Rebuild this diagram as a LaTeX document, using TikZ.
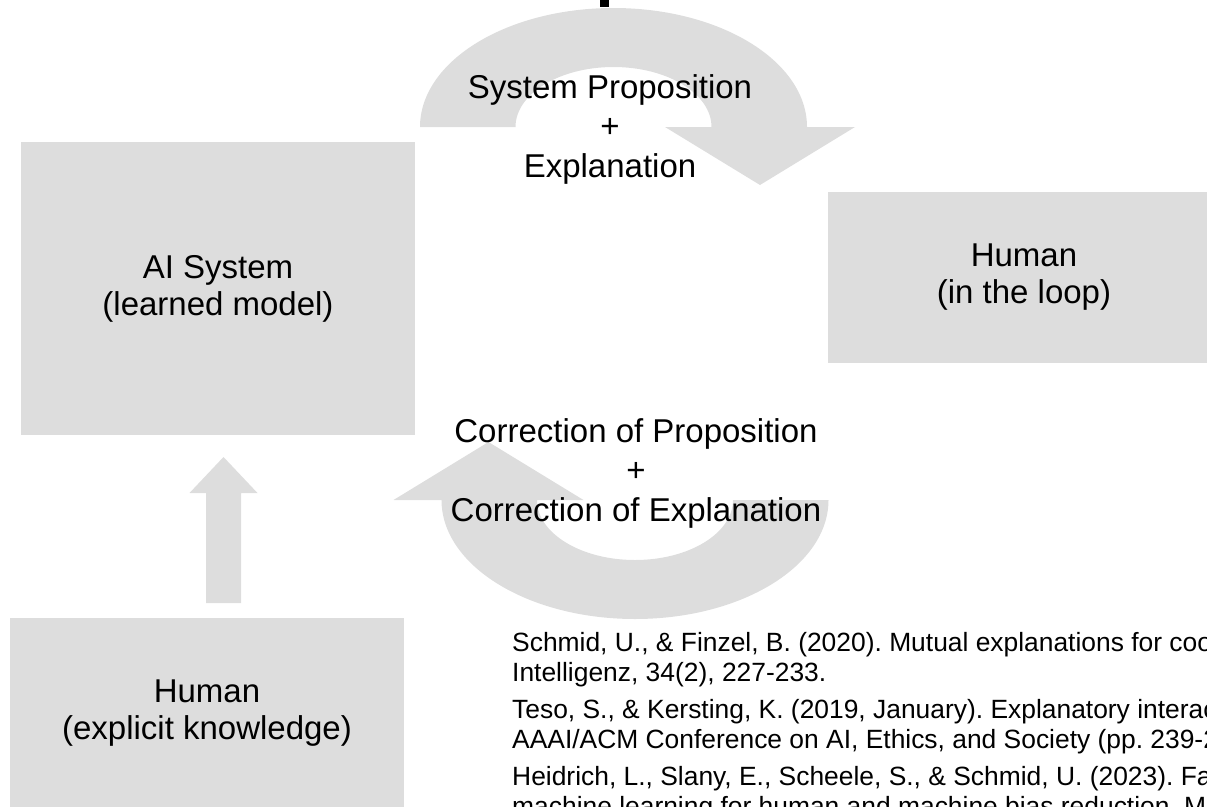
\documentclass[tikz,border=0pt]{standalone}
\usepackage{fontspec}
\setmainfont{Liberation Sans}
\definecolor{panel}{RGB}{221,221,221}
\frenchspacing
\begin{document}
\begin{tikzpicture}[x=1pt,y=-1pt,
  box/.style={fill=panel, inner sep=0pt, align=center,
    font=\fontsize{33}{37}\selectfont},
  looplabel/.style={inner sep=0pt, align=center,
    font=\fontsize{33}{39.5}\selectfont},
  blockarrow/.style={fill=panel},
  reftext/.style={inner sep=0pt, align=left, anchor=north west,
    font=\fontsize{26.4}{30}\selectfont}]
\useasboundingbox (0,0) rectangle (1207,806);
\begin{scope}
\clip (0,0) rectangle (1207,806);

% small dark mark at the top edge
\fill[black] (600,0) rectangle (609,7);

% boxes
\node[box, minimum width=394, minimum height=293] (ai)  at (218,288.5)  {AI System\\(learned model)};
\node[box, minimum width=392, minimum height=171] (hil) at (1024,277.5) {Human\\(in the loop)};
\node[box, minimum width=394, minimum height=191] (hek) at (207,713.5)  {Human\\(explicit knowledge)};

% curved arrow: AI system -> human in the loop
\begin{scope}[shift={(613.5,127)}]
  \fill[blockarrow] (-193.5,0) arc[start angle=180, end angle=360, x radius=193.5, y radius=119]
    -- (241.5,0) -- (146.5,58) -- (51.5,0) -- (98,0)
    arc[start angle=0, end angle=-180, x radius=98, y radius=60] -- cycle;
\end{scope}

% curved arrow: human in the loop -> AI system
\begin{scope}[shift={(635,500)}, rotate=180]
  \fill[blockarrow] (-193.5,0) arc[start angle=180, end angle=360, x radius=193.5, y radius=119]
    -- (241.5,0) -- (146.5,58) -- (51.5,0) -- (98,0)
    arc[start angle=0, end angle=-180, x radius=98, y radius=60] -- cycle;
\end{scope}

% straight arrow: explicit knowledge -> AI system
\coordinate (upfoot) at (223.5,603);
\coordinate (uptip)  at (223.5,457);
\fill[blockarrow] ([xshift=-17.5]upfoot) -- ([xshift=-17.5,yshift=-36]uptip)
  -- ([xshift=-34,yshift=-36]uptip) -- (uptip) -- ([xshift=34,yshift=-36]uptip)
  -- ([xshift=17.5,yshift=-36]uptip) -- ([xshift=17.5]upfoot) -- cycle;

% loop labels
\node[looplabel] (prop) at (610,129) {System Proposition\\+\\Explanation};
\node[looplabel] (corr) at (636,473) {Correction of Proposition\\+\\Correction of Explanation};

% references
\node[reftext] (refs) at (512,632) {%
Schmid, U., \& Finzel, B. (2020). Mutual explanations for cooperative\\
Intelligenz, 34(2), 227-233.\\[7pt]
Teso, S., \& Kersting, K. (2019, January). Explanatory interactive\\
AAAI/ACM Conference on AI, Ethics, and Society (pp. 239-245).\\[7pt]
Heidrich, L., Slany, E., Scheele, S., \& Schmid, U. (2023). FairCaipi:\\
machine learning for human and machine bias reduction. Machine};
\end{scope}
\end{tikzpicture}
\end{document}
